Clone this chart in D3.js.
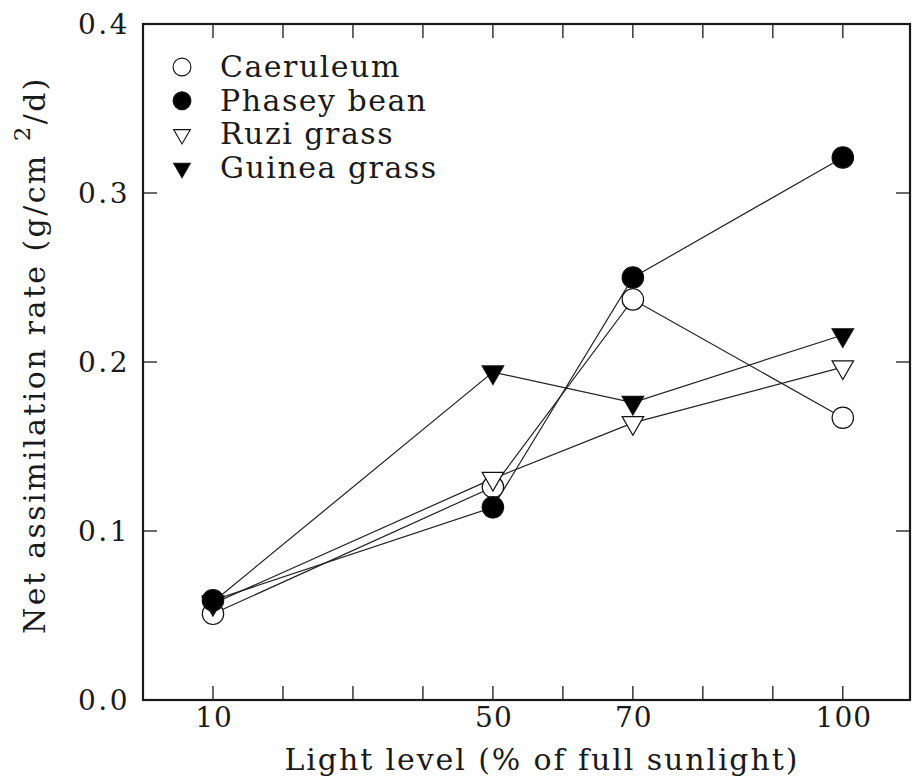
<!DOCTYPE html>
<html>
<head>
<meta charset="utf-8">
<script src="https://cdn.jsdelivr.net/npm/d3@7"></script>
<style>
  body { margin: 0; background: #fff; }
</style>
</head>
<body>
<svg id="chart" width="912" height="777"></svg>
<script>
// light levels (% of full sunlight)
const lightLevels = [10, 50, 70, 100];
const caeruleum = [0.051, 0.126, 0.237, 0.167];
const phaseyBean = [0.059, 0.114, 0.250, 0.321];
const ruziGrass = [0.057, 0.131, 0.164, 0.197];
const guineaGrass = [0.058, 0.194, 0.176, 0.216];
const xTickValues = [10, 20, 30, 40, 50, 60, 70, 80, 90, 100];
const xTickLabels = [10, 50, 70, 100];
const yTickValues = [0.0, 0.1, 0.2, 0.3, 0.4];

const series = [
    {name: "Caeruleum", values: caeruleum, shape: "circle", filled: false},
    {name: "Phasey bean", values: phaseyBean, shape: "circle", filled: true},
    {name: "Ruzi grass", values: ruziGrass, shape: "tri", filled: false},
    {name: "Guinea grass", values: guineaGrass, shape: "tri", filled: true}
];

const plotLeft = 143, plotRight = 910, plotTop = 24, plotBottom = 700;
const xScale = d3.scaleLinear().domain([0, 109.6]).range([plotLeft, plotRight]);
const yScale = d3.scaleLinear().domain([0, 0.4]).range([plotBottom, plotTop]);

const svg = d3.select("#chart")
    .attr("font-family", "'DejaVu Serif', serif")
    .attr("fill", "#1a1a1a");
const ink = "#1a1a1a";

// ticks (inward) on all four sides
const tickLen = 14;
svg.append("g").selectAll("line")
    .data(xTickValues).enter().append("line")
    .attr("x1", d => xScale(d)).attr("x2", d => xScale(d))
    .attr("y1", plotBottom).attr("y2", plotBottom - tickLen)
    .attr("stroke", ink).attr("stroke-width", 1.3);
svg.append("g").selectAll("line")
    .data(xTickValues).enter().append("line")
    .attr("x1", d => xScale(d)).attr("x2", d => xScale(d))
    .attr("y1", plotTop).attr("y2", plotTop + tickLen)
    .attr("stroke", ink).attr("stroke-width", 1.3);
svg.append("g").selectAll("line")
    .data(yTickValues.slice(1, -1)).enter().append("line")
    .attr("x1", plotLeft).attr("x2", plotLeft + tickLen)
    .attr("y1", d => yScale(d)).attr("y2", d => yScale(d))
    .attr("stroke", ink).attr("stroke-width", 1.3);
svg.append("g").selectAll("line")
    .data(yTickValues.slice(1, -1)).enter().append("line")
    .attr("x1", plotRight).attr("x2", plotRight - tickLen)
    .attr("y1", d => yScale(d)).attr("y2", d => yScale(d))
    .attr("stroke", ink).attr("stroke-width", 1.3);

// frame
svg.append("rect")
    .attr("x", plotLeft).attr("y", plotTop)
    .attr("width", plotRight - plotLeft).attr("height", plotBottom - plotTop)
    .attr("fill", "none").attr("stroke", ink).attr("stroke-width", 2.2);

// tick labels
svg.append("g").selectAll("text")
    .data(yTickValues).enter().append("text")
    .attr("x", plotLeft - 13).attr("y", d => yScale(d) + 10)
    .attr("text-anchor", "end")
    .attr("font-size", 28).attr("letter-spacing", 2.5)
    .text(d => d.toFixed(1));
svg.append("g").selectAll("text")
    .data(xTickLabels).enter().append("text")
    .attr("x", d => xScale(d) + 1).attr("y", 727)
    .attr("text-anchor", "middle")
    .attr("font-size", 28).attr("letter-spacing", 1)
    .text(d => d);

// axis titles
svg.append("text")
    .attr("x", (xScale(10) + xScale(100)) / 2 + 14).attr("y", 770)
    .attr("text-anchor", "middle")
    .attr("font-size", 30).attr("letter-spacing", 1.9)
    .text("Light level (% of full sunlight)");

const yTitle = svg.append("text")
    .attr("transform", "translate(45,355) rotate(-90)")
    .attr("text-anchor", "middle")
    .attr("font-size", 30).attr("letter-spacing", 2.4);
yTitle.append("tspan").text("Net assimilation rate (g/cm ");
yTitle.append("tspan").attr("dy", -15).attr("font-size", 23).text("2");
yTitle.append("tspan").attr("dy", 15).text("/d)");

// lines
const line = d3.line()
    .x((d, i) => xScale(lightLevels[i]))
    .y(d => yScale(d));
svg.append("g").selectAll("path")
    .data(series).enter().append("path")
    .attr("d", d => line(d.values))
    .attr("fill", "none").attr("stroke", "#222").attr("stroke-width", 1.2);

// markers
function symbolPath(shape, big) {
    if (shape === "circle") return d3.symbol().type(d3.symbolCircle).size(big ? 360 : 250)();
    return d3.symbol().type(d3.symbolTriangle).size(big ? 200 : 120)();
}
const drawOrder = [0, 2, 3, 1];
drawOrder.forEach(k => {
    const s = series[k];
    svg.append("g").selectAll("path")
        .data(s.values).enter().append("path")
        .attr("d", symbolPath(s.shape, true))
        .attr("transform", (d, i) => `translate(${xScale(lightLevels[i])},${yScale(d)})` + (s.shape === "tri" ? " rotate(180)" : ""))
        .attr("fill", s.filled ? "#000" : "#fff")
        .attr("stroke", "#111").attr("stroke-width", 1.2);
});

// legend
const legendX = 182, legendY0 = 67, legendStep = 33.7;
const legend = svg.append("g").selectAll("g")
    .data(series).enter().append("g")
    .attr("transform", (d, i) => `translate(${legendX},${legendY0 + i * legendStep})`);
legend.append("path")
    .attr("d", d => symbolPath(d.shape, false))
    .attr("transform", d => d.shape === "tri" ? "rotate(180)" : null)
    .attr("fill", d => d.filled ? "#000" : "#fff")
    .attr("stroke", "#111").attr("stroke-width", 1.1);
legend.append("text")
    .attr("x", 38).attr("y", 10)
    .attr("font-size", 30).attr("letter-spacing", 1.5)
    .text(d => d.name);
</script>
</body>
</html>
